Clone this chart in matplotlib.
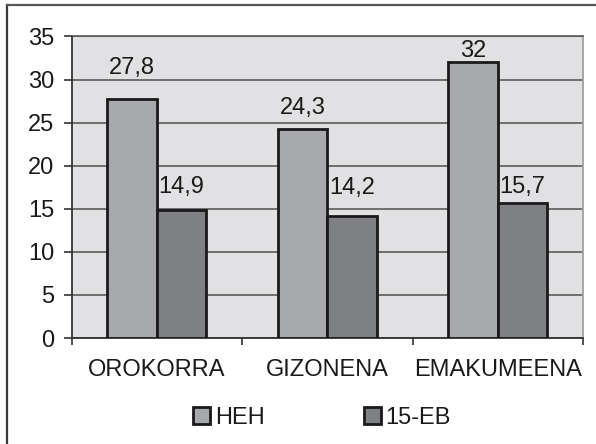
import matplotlib
matplotlib.use("Agg")
import matplotlib.pyplot as plt
import numpy as np
from matplotlib.lines import Line2D

categories = ["OROKORRA", "GIZONENA", "EMAKUMEENA"]
heh = [27.8, 24.3, 32]
eb15 = [14.9, 14.2, 15.7]
heh_labels = ["27,8", "24,3", "32"]
eb_labels = ["14,9", "14,2", "15,7"]
series_names = ["HEH", "15-EB"]
yticks = [0, 5, 10, 15, 20, 25, 30, 35]

# label offsets above bar tops (points) - style only
heh_off = [18, 10.8, 3.6]
eb_off = [12.2, 15.8, 7.2]

plt.rcParams['font.family'] = ['Liberation Sans', 'DejaVu Sans']
FS = 17
TXT = '#1a1a1a'

W, H = 596, 444
fig = plt.figure(figsize=(W/100, H/100), dpi=100)
fig.patch.set_facecolor('white')
# outer frame (left and top edges visible)
fig.add_artist(Line2D([6.5/W, 6.5/W], [0, 1-5.5/H], transform=fig.transFigure, color='#3a3a3a', linewidth=1.6))
fig.add_artist(Line2D([6.5/W, 1], [1-5.5/H, 1-5.5/H], transform=fig.transFigure, color='#555555', linewidth=1.6))

x0, x1, y0, y1 = 71.5, 583, 36.5, 338
ax = fig.add_axes([x0/W, 1-y1/H, (x1-x0)/W, (y1-y0)/H])
ax.set_facecolor('#e1e1e3')
ax.set_xlim(0, 3)
ax.set_ylim(0, 35)

idx = np.arange(len(categories))
bw = 0.29
c1, c2 = '#a8a9ac', '#7f8084'
b1 = ax.bar(idx + 0.5 - bw/2, heh, bw, color=c1, edgecolor='#1a1a1a', linewidth=2, zorder=3, label=series_names[0])
b2 = ax.bar(idx + 0.5 + bw/2, eb15, bw, color=c2, edgecolor='#1a1a1a', linewidth=2, zorder=3, label=series_names[1])

for i in idx:
    ax.annotate(heh_labels[i], (i + 0.5 - bw/2, heh[i]), xytext=(0, heh_off[i]), textcoords='offset points',
                ha='center', va='baseline', fontsize=FS, color=TXT)
    ax.annotate(eb_labels[i], (i + 0.5 + bw/2, eb15[i]), xytext=(0, eb_off[i]), textcoords='offset points',
                ha='center', va='baseline', fontsize=FS, color=TXT)

ax.set_yticks(yticks)
ax.yaxis.grid(True, color='#505050', linewidth=1.1, zorder=0)
ax.set_axisbelow(True)
ax.set_xticks([0, 1, 2, 3])
ax.set_xticklabels([])
ax.set_xticks(idx + 0.5, minor=True)
ax.set_xticklabels(categories, minor=True, fontsize=FS, color=TXT)
ax.tick_params(axis='x', which='minor', length=0, pad=15)
ax.tick_params(axis='x', which='major', length=5, width=1.2, color='#333333', direction='out')
ax.tick_params(axis='y', length=5.5, width=1.2, color='#333333', labelsize=FS, labelcolor=TXT, pad=7)

for s in ['left', 'bottom']:
    ax.spines[s].set_color('#333333')
    ax.spines[s].set_linewidth(1.3)
ax.spines['top'].set_color('#505050')
ax.spines['top'].set_linewidth(1.1)
ax.spines['right'].set_color('#a0a0a0')
ax.spines['right'].set_linewidth(1.3)

leg = fig.legend(handles=[b1, b2], labels=series_names, loc='center', bbox_to_anchor=(0.540, 1-418/H),
                 ncol=2, frameon=False, fontsize=FS, handlelength=0.72, handleheight=0.72,
                 handletextpad=0.2, columnspacing=4.2, borderpad=0, borderaxespad=0)
for t in leg.get_texts():
    t.set_color(TXT)

fig.savefig('out.png', dpi=100)
